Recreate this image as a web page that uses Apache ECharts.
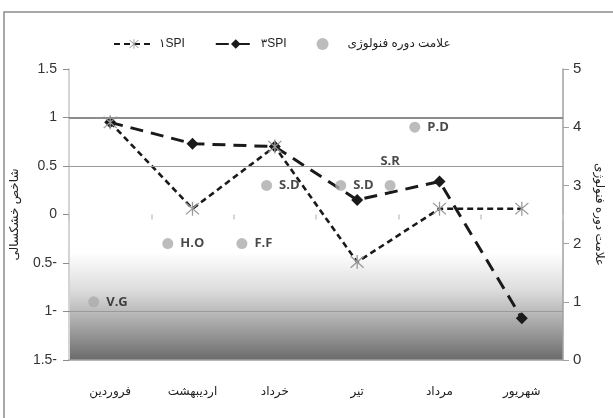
<!DOCTYPE html>
<html><head><meta charset="utf-8">
<script src="https://cdn.jsdelivr.net/npm/echarts@6/dist/echarts.min.js"></script>
<style>html,body{margin:0;padding:0;background:#fff}#c{width:613px;height:418px}</style>
</head><body><div id="c"></div>
<script>
const months = ['فروردین','اردیبهشت','خرداد','تیر','مرداد','شهریور'];
const spi1 = [0.95, 0.06, 0.70, -0.49, 0.06, 0.06];
const spi3 = [0.95, 0.73, 0.70, 0.15, 0.34, -1.07];
const phenoLabels = ['V.G','H.O','F.F','S.D','S.D','S.R','P.D'];
const phenoX = [1, 4, 7, 8, 11, 13, 14];
const phenoY = [1, 2, 2, 3, 3, 3, 4];
const gridLinesAt = [1, 0.5, -1];
const seriesNames = ['۱SPI', '۳SPI', 'علامت دوره فنولوژی'];
const leftAxisName = 'شاخص خشکسالی';
const rightAxisName = 'علامت دوره فنولوژی';

const FONT = "'Liberation Sans','DejaVu Sans',sans-serif";
const starPath = 'path://M46,0 L54,0 L54,100 L46,100 Z M6,12 L12,6 L94,88 L88,94 Z M88,6 L94,12 L12,94 L6,88 Z';

const chart = echarts.init(document.getElementById('c'), null, {renderer:'canvas'});
chart.setOption({
  animation:false,
  backgroundColor:'#fff',
  graphic:[{type:'rect', shape:{x:4,y:12,width:700,height:500}, style:{fill:'none', stroke:'#8c8c8c', lineWidth:1.5}, z:-10}],
  legend:{
    top:33, left:108, itemGap:30, itemWidth:40, itemHeight:12,
    textStyle:{fontFamily:FONT, fontSize:12, color:'#222'},
    data:[
      {name:seriesNames[0]},
      {name:seriesNames[1]},
      {name:seriesNames[2], icon:'circle'}
    ]
  },
  grid:{left:69, right:45, top:69, bottom:58, show:true, borderWidth:0,
    backgroundColor:{type:'linear', x:0, y:0, x2:0, y2:1, colorStops:[
      {offset:0, color:'#ffffff'},{offset:0.63, color:'#ffffff'},
      {offset:0.76, color:'#dcdcdc'},{offset:0.88, color:'#a6a6a6'},{offset:1, color:'#6b6b6b'}]}},
  xAxis:[
    {type:'category', data:months, position:'bottom',
     axisLine:{show:true, onZero:true, onZeroAxisIndex:0, lineStyle:{color:'rgba(0,0,0,0)'}},
     axisTick:{show:true, length:5, lineStyle:{color:'#c8c8c8', width:1.5}},
     axisLabel:{show:false}, splitLine:{show:false}},
    {type:'category', data:months, position:'bottom',
     axisLine:{show:true, onZero:false, lineStyle:{color:'#a0a0a0', width:1.5}},
     axisTick:{show:false},
     axisLabel:{show:true, margin:26, fontFamily:FONT, fontSize:12, color:'#222'}, splitLine:{show:false}},
    {type:'value', min:0, max:20, show:false, position:'top', axisLine:{onZero:false}}
  ],
  yAxis:[
    {type:'value', min:-1.5, max:1.5, interval:0.5, position:'left',
     name:leftAxisName, nameLocation:'middle', nameGap:48, nameRotate:90,
     nameTextStyle:{fontFamily:FONT, fontSize:12, color:'#222'},
     axisLine:{show:true, lineStyle:{color:'#d4d4d4', width:2}},
     axisTick:{show:true, length:6, lineStyle:{color:'#8c8c8c'}},
     axisLabel:{fontFamily:FONT, fontSize:14, color:'#333', margin:12,
       formatter:v => v < 0 ? Math.abs(v) + '-' : String(v)},
     splitLine:{show:false}},
    {type:'value', min:0, max:5, interval:1, position:'right',
     name:rightAxisName, nameLocation:'middle', nameGap:30, nameRotate:-90,
     nameTextStyle:{fontFamily:FONT, fontSize:12, color:'#222'},
     axisLine:{show:true, lineStyle:{color:'#a0a0a0', width:1.5}},
     axisTick:{show:true, length:6, lineStyle:{color:'#a0a0a0'}},
     axisLabel:{fontFamily:FONT, fontSize:15, color:'#333', margin:10},
     splitLine:{show:false}}
  ],
  series:[
    {type:'line', name:'_grid', xAxisIndex:0, yAxisIndex:0, data:[], silent:true, z:1,
     markLine:{silent:true, symbol:'none', label:{show:false},
       data:gridLinesAt.map(v => ({yAxis:v, lineStyle:{color: v === 1 ? '#8c8c8c' : '#9a9a9a', width: v === 1 ? 1.8 : 1.2, type:'solid'}}))}},
    {type:'line', name:seriesNames[1], xAxisIndex:0, yAxisIndex:0, data:spi3, z:3,
     symbol:'diamond', symbolSize:12,
     lineStyle:{color:'#1a1a1a', width:3, type:[13,8]},
     itemStyle:{color:'#1a1a1a'}},
    {type:'line', name:seriesNames[0], xAxisIndex:0, yAxisIndex:0, data:spi1, z:4,
     symbol:starPath, symbolSize:14,
     lineStyle:{color:'#1a1a1a', width:2.6, type:[6,4]},
     itemStyle:{color:'#9a9a9a'}},
    {type:'scatter', name:seriesNames[2], xAxisIndex:2, yAxisIndex:1, z:5,
     symbolSize:11, itemStyle:{color:'#ababab'},
     data:phenoX.map((x, i) => ({value:[x, phenoY[i]], name:phenoLabels[i],
       label:{position: phenoLabels[i] === 'S.R' ? 'top' : 'right', distance: phenoLabels[i] === 'S.R' ? 12 : 7}})),
     label:{show:true, formatter:p => p.name, fontFamily:"'Open Sans',sans-serif", fontWeight:'bold', fontSize:13, color:'#1a1a1a'}}
  ]
});
</script></body></html>
